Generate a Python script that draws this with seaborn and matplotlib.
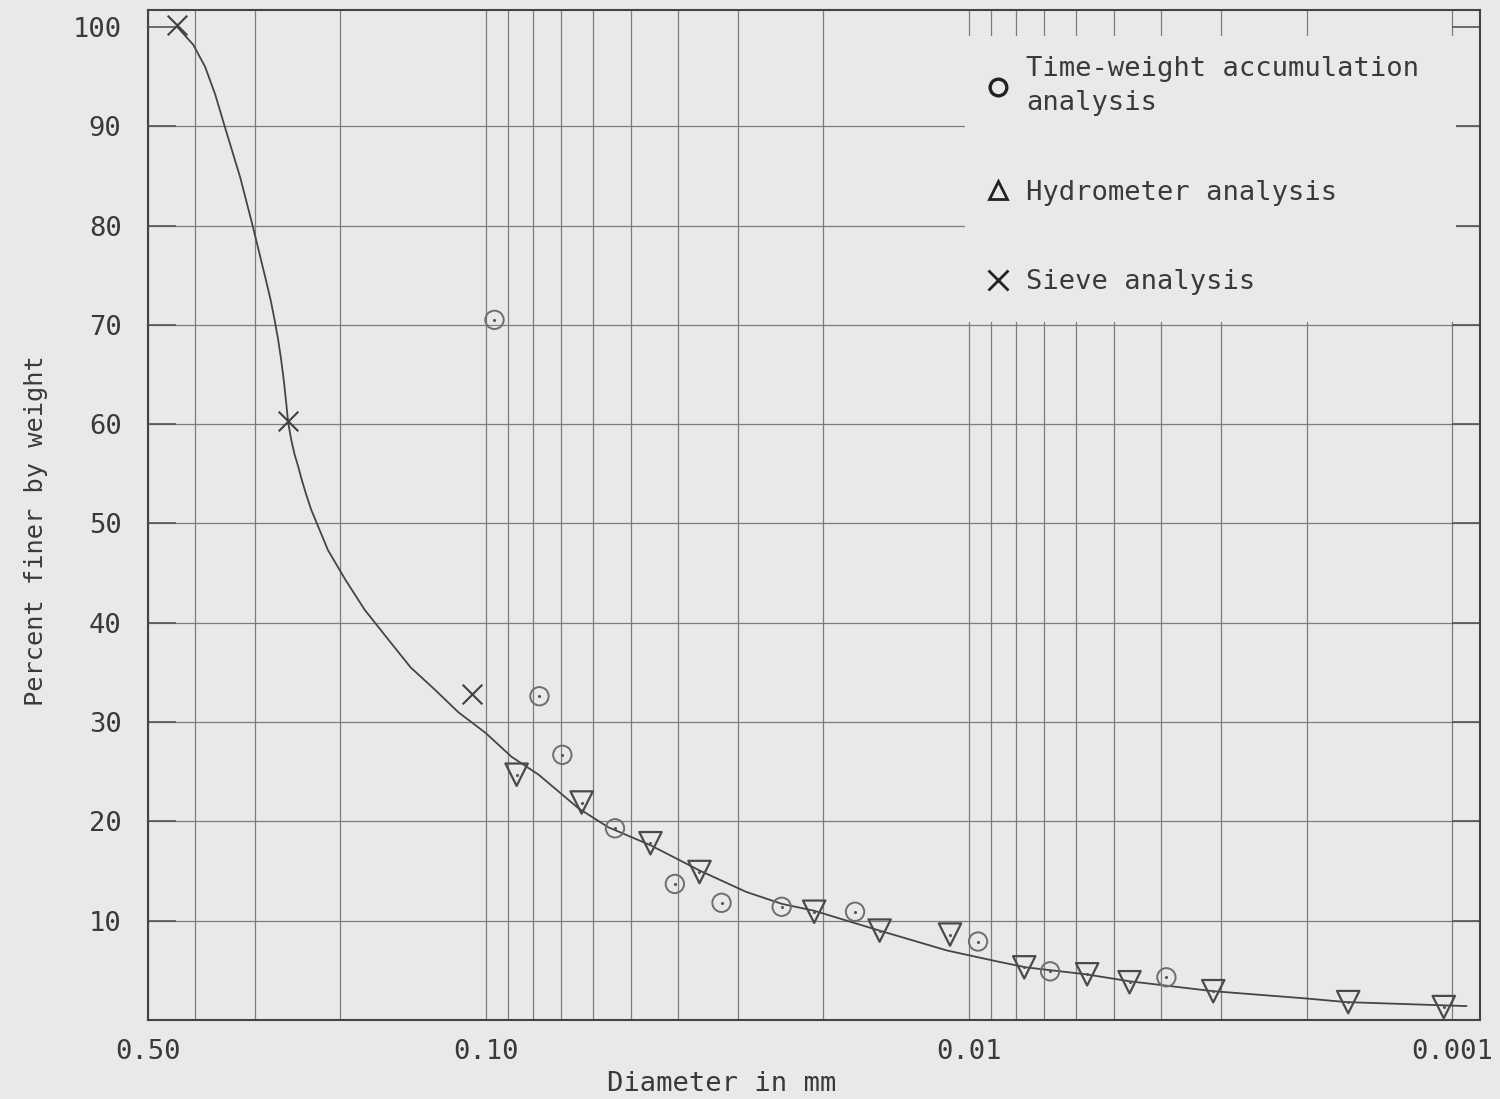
import matplotlib
matplotlib.use("Agg")
import numpy as np
import pandas as pd
import seaborn as sns
import matplotlib.pyplot as plt
from matplotlib.ticker import FixedLocator, FixedFormatter, NullFormatter
from matplotlib.lines import Line2D
from matplotlib.patches import Rectangle
from matplotlib.transforms import blended_transform_factory

# ---------------- data ----------------
# Time-weight accumulation analysis (circles)
tw_diam = [0.0959, 0.0774, 0.0694, 0.0540, 0.0406, 0.0325, 0.0244, 0.0172, 0.00957, 0.00679, 0.0039]
tw_pct = [70.5, 32.6, 26.7, 19.3, 13.7, 11.8, 11.4, 10.9, 7.9, 4.9, 4.3]

# Hydrometer analysis (triangles)
hy_diam = [0.0863, 0.0633, 0.0456, 0.0361, 0.0209, 0.0153, 0.01094, 0.00768, 0.00569,
           0.00465, 0.00312, 0.00164, 0.00104]
hy_pct = [24.7, 21.9, 17.8, 14.9, 10.9, 9.0, 8.6, 5.3, 4.6, 3.8, 2.9, 1.8, 1.3]

# Sieve analysis (crosses)
sv_diam = [0.435, 0.256, 0.1066]
sv_pct = [100.2, 60.3, 32.8]

# Hand-drawn grading curve
curve_diam = [0.435, 0.403, 0.381, 0.363, 0.346, 0.322, 0.303, 0.285, 0.2787, 0.2735,
              0.2689, 0.2651, 0.2619, 0.2591, 0.2564, 0.2526, 0.2485, 0.2443, 0.2403,
              0.2352, 0.2298, 0.212, 0.195, 0.178, 0.159, 0.143, 0.127,
              0.114, 0.100, 0.0884, 0.0777, 0.0642, 0.0557, 0.0456, 0.0359, 0.0289,
              0.0244, 0.0209, 0.0153, 0.0111, 0.00874, 0.00761, 0.00572, 0.00465,
              0.00312, 0.00204, 0.00165, 0.000933]
curve_pct = [100.0, 98.2, 96.0, 93.2, 89.8, 84.8, 79.8, 74.5, 72.5, 70.5,
             68.5, 66.5, 64.5, 62.4, 60.2, 58.4, 56.9, 55.7, 54.4,
             52.9, 51.4, 47.3, 44.3, 41.3, 38.3, 35.5, 33.2,
             31.0, 28.9, 26.5, 24.7, 21.3, 19.4, 17.6, 15.0, 12.9,
             11.7, 11.0, 9.0, 7.0, 5.9, 5.3, 4.6, 3.9,
             2.9, 2.2, 1.8, 1.4]

x_major = [0.5, 0.1, 0.01, 0.001]
x_major_labels = ["0.50", "0.10", "0.01", "0.001"]
y_major = [10, 20, 30, 40, 50, 60, 70, 80, 90, 100]
y_major_labels = ["10", "20", "30", "40", "50", "60", "70", "80", "90", "100"]

labels = ["Time-weight accumulation\nanalysis", "Hydrometer analysis", "Sieve analysis"]

# ---------------- style ----------------
PAPER = "#e9e9e9"
INK = "#3a3a3a"
GRID = "#7c7c7c"
FS = 19.5

sns.set_theme(style="ticks")
plt.rcParams["font.family"] = ["DejaVu Sans Mono", "DejaVu Sans"]
plt.rcParams["axes.axisbelow"] = True

fig = plt.figure(figsize=(15, 10.99), dpi=100, facecolor=PAPER)
ax = fig.add_axes([148 / 1500, 79 / 1099, 1332 / 1500, 1010 / 1099])
ax.set_facecolor(PAPER)

# curve
curve_df = pd.DataFrame({"d": curve_diam, "p": curve_pct})
sns.lineplot(data=curve_df, x="d", y="p", sort=False, estimator=None,
             color="#454545", lw=1.3, ax=ax, zorder=3)

# markers
tw_df = pd.DataFrame({"d": tw_diam, "p": tw_pct})
hy_df = pd.DataFrame({"d": hy_diam, "p": hy_pct})
sv_df = pd.DataFrame({"d": sv_diam, "p": sv_pct})

sns.scatterplot(data=tw_df, x="d", y="p", marker="o", s=175, facecolor="none",
                edgecolor="#6e6e6e", linewidth=1.4, ax=ax, zorder=4)
sns.scatterplot(data=hy_df, x="d", y="p", marker="v", s=260, facecolor="none",
                edgecolor="#4a4a4a", linewidth=1.6, ax=ax, zorder=4)
sns.scatterplot(data=sv_df, x="d", y="p", marker="x", s=200, color="#404040",
                linewidth=1.5, ax=ax, zorder=4)
# centre dots
sns.scatterplot(data=tw_df, x="d", y="p", marker="o", s=5, color="#555555",
                linewidth=0, ax=ax, zorder=5)
sns.scatterplot(data=hy_df, x="d", y="p", marker="o", s=5, color="#555555",
                linewidth=0, ax=ax, zorder=5)

# axes scales
ax.set_xscale("log")
ax.set_xlim(0.5, 0.000875)
ax.set_ylim(0, 101.7)

ax.xaxis.set_major_locator(FixedLocator(x_major))
ax.xaxis.set_major_formatter(FixedFormatter(x_major_labels))
minor = [m * 10.0 ** k for k in (-3, -2, -1) for m in range(2, 10) if m * 10.0 ** k < 0.5]
ax.xaxis.set_minor_locator(FixedLocator(minor))
ax.xaxis.set_minor_formatter(NullFormatter())
ax.yaxis.set_major_locator(FixedLocator(y_major))
ax.yaxis.set_major_formatter(FixedFormatter(y_major_labels))

ax.grid(True, which="both", axis="x", color=GRID, lw=0.9)
ax.grid(True, which="major", axis="y", color=GRID, lw=0.9)
ax.get_ygridlines()[-1].set_visible(False)

ax.tick_params(axis="x", which="both", length=0, pad=14, labelsize=FS, labelcolor=INK)
ax.tick_params(axis="y", which="major", direction="in", length=20, width=1.2,
               color="#555555", left=True, right=True, pad=19, labelsize=FS, labelcolor=INK)

for s in ax.spines.values():
    s.set_visible(True)
    s.set_color("#444444")
    s.set_linewidth(1.5)

# blank paper region behind the key
tr = blended_transform_factory(ax.transAxes, ax.transData)
ax.add_patch(Rectangle((0.6134, 70.3), 0.3686, 28.8, transform=tr,
                       facecolor=PAPER, edgecolor="none", zorder=1))

# key
handles = [
    Line2D([], [], ls="", marker="o", ms=12, mfc="none", mec="#222222", mew=2.4),
    Line2D([], [], ls="", marker="^", ms=13, mfc="none", mec="#222222", mew=2.0),
    Line2D([], [], ls="", marker="x", ms=14, color="#222222", mew=2.0),
]
leg = ax.legend(handles, labels, loc="upper left", bbox_to_anchor=(0.6276, 0.954),
                frameon=False, borderpad=0, borderaxespad=0, handlelength=1.0,
                handletextpad=0.55, labelspacing=2.35, fontsize=FS)
for t in leg.get_texts():
    t.set_color(INK)
    t.set_linespacing(1.37)

ax.set_xlabel("Diameter in mm", fontsize=FS, color=INK)
ax.set_ylabel("Percent finer by weight", fontsize=18.3, color=INK)
ax.xaxis.set_label_coords(0.431, -0.0505)
ax.yaxis.set_label_coords(-0.0751, 0.485)

fig.savefig("out.png", dpi=100, facecolor=PAPER)
